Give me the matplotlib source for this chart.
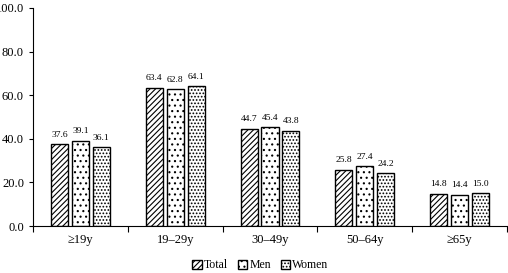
import numpy as np
import matplotlib
matplotlib.use("Agg")
from matplotlib import pyplot as plt

groups = ["≥19y", "19–29y", "30–49y", "50–64y", "≥65y"]
total = [37.6, 63.4, 44.7, 25.8, 14.8]
men = [39.1, 62.8, 45.4, 27.4, 14.4]
women = [36.1, 64.1, 43.8, 24.2, 15.0]
series_names = ["Total", "Men", "Women"]
y_ticks = [0, 20, 40, 60, 80, 100]

plt.rcParams["font.family"] = ["Liberation Serif", "DejaVu Serif"]
plt.rcParams["hatch.linewidth"] = 0.8

fig = plt.figure(figsize=(5.08, 2.73), dpi=100)
ax = fig.add_axes([0.065, 0.172, 0.933, 0.799])

x = np.arange(len(groups))
width = 0.18
step = 0.22
hatches = ["//////", "...", "....."]

for i, (name, vals) in enumerate(zip(series_names, [total, men, women])):
    bars = ax.bar(x + (i - 1) * step, vals, width, label=name, facecolor="white",
                  edgecolor="black", linewidth=1.0, hatch=hatches[i])
    for b, v in zip(bars, vals):
        ax.text(b.get_x() + b.get_width() / 2, v + 2.5, f"{v:.1f}",
                ha="center", va="bottom", fontsize=6.8)

ax.set_xlim(-0.5, len(groups) - 0.5)
ax.set_ylim(0, 100)
ax.set_yticks(y_ticks)
ax.set_yticklabels([f"{t:.1f}" for t in y_ticks], fontsize=9)
ax.set_xticks(np.arange(len(groups) + 1) - 0.5)
ax.set_xticklabels([])
ax.set_xticks(x, minor=True)
ax.set_xticklabels(groups, minor=True, fontsize=9)
ax.tick_params(axis="x", which="minor", length=0, pad=6)
ax.tick_params(axis="x", which="major", length=4, direction="out")
ax.tick_params(axis="y", length=3, direction="out")

ax.spines["top"].set_visible(False)
ax.spines["right"].set_visible(False)

ax.legend(loc="upper center", bbox_to_anchor=(0.48, -0.115), ncol=3, frameon=False,
          fontsize=8.5, handlelength=0.8, handleheight=0.8, handletextpad=0.2,
          columnspacing=0.8, borderpad=0.2)

fig.savefig("out.png", dpi=100)
